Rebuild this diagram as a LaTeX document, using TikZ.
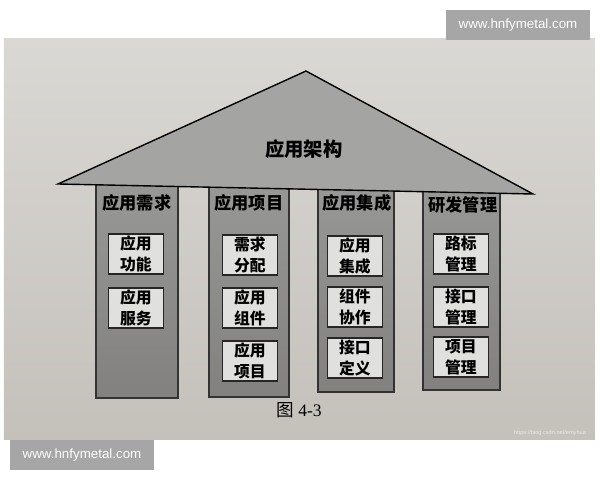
\documentclass[tikz,border=0pt]{standalone}
\usepackage{fontspec}
\setmainfont{Liberation Serif}
\newfontfamily\cjk{Noto Sans CJK SC}
\newfontfamily\wmfont{Liberation Sans}
\usetikzlibrary{calc}
\definecolor{paper}{RGB}{218,216,212}
\definecolor{paperdark}{RGB}{196,193,187}
\definecolor{roofgray}{RGB}{164,164,162}
\definecolor{pillartop}{RGB}{152,152,150}
\definecolor{pillarbot}{RGB}{130,129,127}
\definecolor{cellgray}{RGB}{224,224,222}
\definecolor{wmgray}{RGB}{166,166,166}
\tikzset{
	pillar/.style={draw=black!80, line width=0.6pt, top color=pillartop, bottom color=pillarbot},
	cell/.style={draw=black!85, line width=1pt, fill=cellgray, minimum width=1.1cm, minimum height=0.8cm, inner sep=0pt, align=center, font=\cjk\bfseries\fontsize{9}{12}\selectfont},
	head/.style={font=\cjk\bfseries\fontsize{9.8}{12}\selectfont},
	wmark/.style={text=white, font=\wmfont\fontsize{7.6}{9}\selectfont}
}

\begin{document}
\begin{tikzpicture}[x=0.02cm, y=-0.02cm]
			%%%%% START %%%%%
			\useasboundingbox (0, 0) rectangle (600, 480);
			\fill[white] (0, 0) rectangle (600, 480);
			
			\fill[top color=paper, bottom color=paperdark] (4, 39) rectangle (595, 440);
			
			\draw[pillar] (96, 180) rectangle (178, 398);
			\draw[pillar] (209, 180) rectangle (289, 397);
			\draw[pillar] (318, 180) rectangle (394, 392);
			\draw[pillar] (423, 180) rectangle (500, 390);
			
			\draw[line width=0.8pt, fill=roofgray] (58, 184) -- (306, 71) -- (533, 194) -- cycle;
			\node[font=\cjk\bfseries\fontsize{11}{13}\selectfont] (arch) at (304, 149) {应用架构};
			
			\node[head] (reqhead) at (137, 203) {应用需求};
			\node[head] (projhead) at (249, 203) {应用项目};
			\node[head] (inthead) at (357, 203) {应用集成};
			\node[head] (devhead) at (463, 205) {研发管理};
			
			\node[cell] (func) at (136, 254) {应用\\功能};
			\node[cell] (serv) at (136, 308) {应用\\服务};
			
			\node[cell] (alloc) at (250, 255) {需求\\分配};
			\node[cell] (comp) at (250, 308) {应用\\组件};
			\node[cell] (proj) at (250, 361) {应用\\项目};
			
			\node[cell] (integ) at (355, 256) {应用\\集成};
			\node[cell] (coop) at (355, 307) {组件\\协作};
			\node[cell] (iface) at (355, 358) {接口\\定义};
			
			\node[cell] (road) at (461, 254) {路标\\管理};
			\node[cell] (ifman) at (461, 307) {接口\\管理};
			\node[cell] (projman) at (461, 357) {项目\\管理};
			
			\node[font=\fontsize{10}{12}\selectfont] (caption) at (299, 410) {{\cjk 图} 4-3};
			\node[text=white!92!black, font=\wmfont\fontsize{3.2}{4}\selectfont] (blog) at (550, 433) {https://blog.csdn.net/emyhua};
			
			\fill[wmgray] (446, 10) rectangle (590, 40);
			\node[wmark] (wmtop) at (518, 25) {www.hnfymetal.com};
			\fill[wmgray] (10, 440) rectangle (154, 470);
			\node[wmark] (wmbottom) at (82, 455) {www.hnfymetal.com};
			%%%%% END %%%%%
\end{tikzpicture}
\end{document}
